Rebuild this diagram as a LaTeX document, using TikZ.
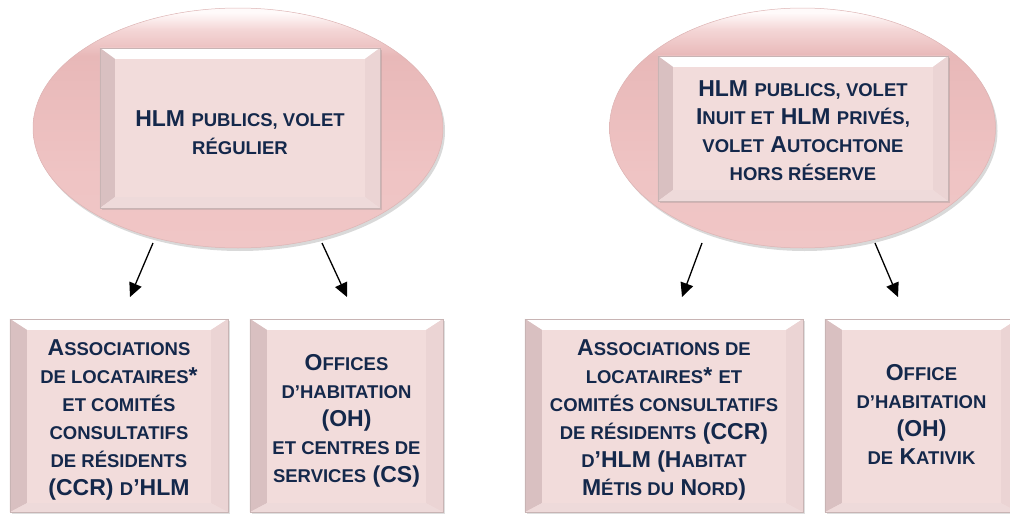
\documentclass[tikz,border=0pt]{standalone}
\usepackage{fontspec}
\setmainfont{Liberation Sans}
\usetikzlibrary{arrows.meta,shadows,calc,shapes.geometric}
\definecolor{txtcol}{HTML}{14284B}
\definecolor{face}{HTML}{F2DCDB}
\definecolor{bevL}{HTML}{D9C0C1}
\definecolor{bevR}{HTML}{EBD4D4}
\definecolor{bevB}{HTML}{EEDADA}
\definecolor{edge}{HTML}{C8B4B4}
\definecolor{ellA}{HTML}{F0C6C6}
\definecolor{ellB}{HTML}{EFC4C4}
\definecolor{ellC}{HTML}{EBBDBD}
\definecolor{ellD}{HTML}{E8B8B8}
\definecolor{ellE}{HTML}{F4D6D6}
\definecolor{ellF}{HTML}{FFFAFA}
\definecolor{ellrim}{HTML}{DDB4B4}
\pgfdeclareverticalshading{ellshade}{100bp}{color(0bp)=(ellA); color(25bp)=(ellA); color(40bp)=(ellB); color(55bp)=(ellC); color(65bp)=(ellD); color(70.5bp)=(ellE); color(74bp)=(ellF); color(100bp)=(ellF)}
\newcommand\smc[1]{{\fontsize{18.5pt}{28pt}\selectfont #1}}
% bevel: #1 node name, #2 horizontal inset, #3 top inset, #4 bottom inset
\newcommand\bevel[4]{%
  \fill[white] (#1.north west) -- (#1.north east) -- ($(#1.north east)+(-#2,#3)$) -- ($(#1.north west)+(#2,#3)$) -- cycle;
  \fill[bevL] (#1.north west) -- ($(#1.north west)+(#2,#3)$) -- ($(#1.south west)+(#2,-#4)$) -- (#1.south west) -- cycle;
  \fill[bevR] (#1.north east) -- ($(#1.north east)+(-#2,#3)$) -- ($(#1.south east)+(-#2,-#4)$) -- (#1.south east) -- cycle;
  \fill[bevB] (#1.south west) -- ($(#1.south west)+(#2,-#4)$) -- ($(#1.south east)+(-#2,-#4)$) -- (#1.south east) -- cycle;
  \draw[edge, line width=0.6pt] (#1.north west) rectangle (#1.south east);
}
\tikzset{
  ellnode/.style={ellipse, inner sep=0pt, shading=ellshade, draw=ellrim, line width=0.5pt,
    drop shadow={opacity=0.3, shadow xshift=2pt, shadow yshift=-3pt}},
  boxnode/.style={rectangle, inner sep=0pt, fill=face,
    drop shadow={opacity=0.25, shadow xshift=1.5pt, shadow yshift=-1.5pt}},
  txt/.style={text=txtcol, align=center, font=\fontsize{23pt}{28pt}\selectfont\bfseries, inner sep=0pt},
  arr/.style={-{Triangle[length=14pt,width=13pt]}, line width=1.3pt, black},
}
\begin{document}
\begin{tikzpicture}[x=1pt,y=-1pt]
\useasboundingbox (0,0) rectangle (1010,514);
% left group
\node[ellnode, minimum width=410pt, minimum height=240pt] (e1) at (238,128) {};
\node[boxnode, minimum width=280pt, minimum height=160pt] (t1) at (240,128) {};
\bevel{t1}{15}{11}{11}
\node[txt] (t1txt) at (240,132.5) {HLM \smc{PUBLICS, VOLET}\\ \smc{RÉGULIER}};
% right group
\node[ellnode, minimum width=386pt, minimum height=240pt] (e2) at (802.5,128) {};
\node[boxnode, minimum width=290pt, minimum height=145pt] (t2) at (803,128.5) {};
\bevel{t2}{15}{11}{11}
\node[txt] (t2txt) at (803,130.5) {HLM \smc{PUBLICS, VOLET}\\ I\smc{NUIT ET} HLM \smc{PRIVÉS,}\\ \smc{VOLET} A\smc{UTOCHTONE}\\ \smc{HORS RÉSERVE}};
% bottom boxes
\node[boxnode, minimum width=218pt, minimum height=193pt] (b1) at (119,415.5) {};
\bevel{b1}{17}{11}{9}
\node[txt] (b1txt) at (119,420) {A\smc{SSOCIATIONS}\\ \smc{DE LOCATAIRES}*\\ \smc{ET COMITÉS}\\ \smc{CONSULTATIFS}\\ \smc{DE RÉSIDENTS}\\ (CCR) \smc{D}’HLM};
\node[boxnode, minimum width=193pt, minimum height=193pt] (b2) at (346.5,415.5) {};
\bevel{b2}{17}{11}{9}
\node[txt] (b2txt) at (346.5,421) {O\smc{FFICES}\\ \smc{D’HABITATION}\\ (OH)\\ \smc{ET CENTRES DE}\\ \smc{SERVICES} (CS)};
\node[boxnode, minimum width=278pt, minimum height=193pt] (b3) at (664,415.5) {};
\bevel{b3}{17}{11}{9}
\node[txt] (b3txt) at (664,420) {A\smc{SSOCIATIONS DE}\\ \smc{LOCATAIRES}* \smc{ET}\\ \smc{COMITÉS CONSULTATIFS}\\ \smc{DE RÉSIDENTS} (CCR)\\ \smc{D}’HLM (H\smc{ABITAT}\\ M\smc{ÉTIS DU} N\smc{ORD})};
\node[boxnode, minimum width=193pt, minimum height=193pt] (b4) at (921.5,415.5) {};
\bevel{b4}{17}{11}{9}
\node[txt] (b4txt) at (921.5,414) {O\smc{FFICE}\\ \smc{D’HABITATION}\\ (OH)\\ \smc{DE} K\smc{ATIVIK}};
% arrows
\coordinate (a1s) at (153,243); \coordinate (a1e) at (130,297);
\coordinate (a2s) at (322,243); \coordinate (a2e) at (347,297);
\coordinate (a3s) at (702,243); \coordinate (a3e) at (682,297);
\coordinate (a4s) at (875,243); \coordinate (a4e) at (898,297);
\draw[arr] (a1s) -- (a1e);
\draw[arr] (a2s) -- (a2e);
\draw[arr] (a3s) -- (a3e);
\draw[arr] (a4s) -- (a4e);
\end{tikzpicture}
\end{document}
